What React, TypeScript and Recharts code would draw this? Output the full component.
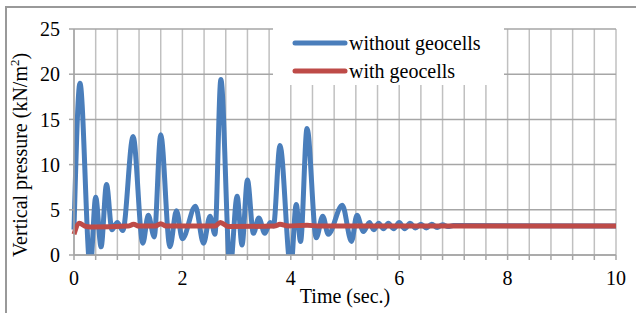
import React from 'react';
import { LineChart, Line, XAxis, YAxis, CartesianGrid, Legend } from 'recharts';

const blueT = [0, 0.11, 0.3, 0.4, 0.5, 0.6, 0.7, 0.8, 0.9, 1.09, 1.27, 1.37, 1.48, 1.6, 1.77, 1.89, 2.0, 2.24, 2.39, 2.51, 2.6, 2.71, 2.88, 3.01, 3.1, 3.2, 3.31, 3.41, 3.52, 3.62, 3.68, 3.8, 4.0, 4.1, 4.18, 4.3, 4.47, 4.59, 4.69, 4.95, 5.12, 5.22, 5.34, 5.45, 5.53, 5.62, 5.71, 5.8, 5.9, 6.0, 6.1, 6.2, 6.3, 6.4, 6.5, 6.6, 6.7, 6.8, 6.9, 7.0, 10];
const blueV = [2.8, 19.0, -1.5, 6.4, 0.9, 7.8, 2.8, 3.6, 2.7, 13.1, 1.3, 4.4, 2.0, 13.3, 0.9, 4.9, 1.8, 5.4, 1.3, 4.3, 2.3, 19.4, -1.5, 6.5, 1.1, 8.3, 2.4, 4.1, 2.4, 3.6, 3.2, 12.1, -1.5, 5.6, 1.5, 14.0, 1.9, 4.3, 2.3, 5.5, 1.5, 4.4, 2.6, 3.6, 2.8, 3.5, 2.9, 3.5, 2.9, 3.6, 2.9, 3.5, 3.0, 3.4, 3.0, 3.4, 3.05, 3.35, 3.15, 3.25, 3.2];

const redT = [0, 0.1, 0.2, 0.3, 1.0, 1.1, 1.2, 1.5, 1.6, 1.7, 2.6, 2.7, 2.85, 3.7, 3.8, 3.95, 4.3, 4.5, 10];
const redV = [2.3, 3.5, 3.2, 3.1, 3.2, 3.4, 3.2, 3.2, 3.45, 3.2, 3.2, 3.6, 3.15, 3.2, 3.4, 3.2, 3.3, 3.2, 3.2];

const xTicks = [0, 0.4, 0.8, 1.2, 1.6, 2, 2.4, 2.8, 3.2, 3.6, 4, 4.4, 4.8, 5.2, 5.6, 6, 6.4, 6.8, 7.2, 7.6, 8, 8.4, 8.8, 9.2, 9.6, 10];
const xLabels = [0, 2, 4, 6, 8, 10];
const yTicks = [0, 5, 10, 15, 20, 25];

const seriesNames = ['without geocells', 'with geocells'];
const seriesColors = ['#4a7ebb', '#be4b48'];

const blueData = blueT.map((t, i) => ({ t, v: blueV[i] }));
const redData = redT.map((t, i) => ({ t, v: redV[i] }));

const FONT = "'Liberation Serif', 'Times New Roman', Times, 'DejaVu Serif', serif";

const LegendContent = () => (
  <div style={{ background: '#fff', width: 231, height: 58, fontFamily: FONT, fontSize: 20, color: '#000' }}>
    {seriesNames.map((n, i) => (
      <div key={n} style={{ position: 'absolute', left: 19, top: i === 0 ? 5 : 33, display: 'flex', alignItems: 'center', height: 22 }}>
        <svg width={56} height={8} style={{ display: 'block' }}>
          <line x1={3} y1={4} x2={53} y2={4} stroke={seriesColors[i]} strokeWidth={5} strokeLinecap="round" />
        </svg>
        <span style={{ marginLeft: 1, lineHeight: '22px', whiteSpace: 'nowrap', fontFamily: FONT }}>{n}</span>
      </div>
    ))}
  </div>
);

const YLabel = (props: any) => {
  return (
    <text x={27} y={155} transform="rotate(-90, 27, 155)" textAnchor="middle" style={{ fontFamily: FONT, fontSize: 20 }} fill="#000">
      Vertical pressure (kN/m<tspan dy={-8} style={{ fontSize: 13 }}>2</tspan><tspan dy={8}>)</tspan>
    </text>
  );
};

const XLabel = (props: any) => (
  <text x={345} y={303} textAnchor="middle" style={{ fontFamily: FONT, fontSize: 20 }} fill="#000">Time (sec.)</text>
);

export default function App() {
  return (
    <div style={{ position: 'absolute', left: 0, top: 0, width: 636, height: 313, overflow: 'hidden', background: '#fff', fontFamily: FONT }}>
      <div style={{ position: 'absolute', left: 5, top: 6, width: 700, height: 400, borderLeft: '2px solid #999', borderTop: '2px solid #999' }} />
      <div style={{ position: 'absolute', left: 0, top: 0 }}>
        <LineChart width={636} height={313} margin={{ top: 29, right: 20, bottom: 28, left: 0 }} style={{ fontFamily: FONT }}>
          <CartesianGrid horizontal={false} vertical={true} stroke="#c0c0c0" strokeWidth={1.5} />
          <CartesianGrid horizontal={true} vertical={false} stroke="#a6a6a6" strokeWidth={1.5} />
          <XAxis
            dataKey="t"
            type="number"
            domain={[0, 10]}
            ticks={xTicks}
            interval={0}
            allowDuplicatedCategory={false}
            height={30}
            tickSize={5}
            tickMargin={11}
            stroke="#a6a6a6"
            strokeWidth={1.5}
            tick={{ fill: '#000', fontSize: 20, style: { fontFamily: FONT } }}
            tickFormatter={(v: number) => (xLabels.some((l) => Math.abs(l - v) < 1e-6) ? String(Math.round(v)) : '')}
            label={<XLabel />}
          />
          <YAxis
            type="number"
            domain={[0, 25]}
            ticks={yTicks}
            allowDataOverflow={true}
            width={74}
            tickSize={5}
            tickMargin={9}
            stroke="#a6a6a6"
            strokeWidth={1.5}
            tick={{ fill: '#000', fontSize: 20, style: { fontFamily: FONT } }}
            label={<YLabel />}
          />
          <Legend
            layout="horizontal"
            verticalAlign="middle"
            align="center"
            content={<LegendContent />}
            wrapperStyle={{ position: 'absolute', left: 273, top: 27, width: 231, height: 58 }}
          />
          <Line data={blueData} dataKey="v" name={seriesNames[0]} type="monotone" stroke={seriesColors[0]} strokeWidth={5} dot={false} isAnimationActive={false} />
          <Line data={redData} dataKey="v" name={seriesNames[1]} type="monotone" stroke={seriesColors[1]} strokeWidth={5} dot={false} isAnimationActive={false} />
        </LineChart>
      </div>
    </div>
  );
}
